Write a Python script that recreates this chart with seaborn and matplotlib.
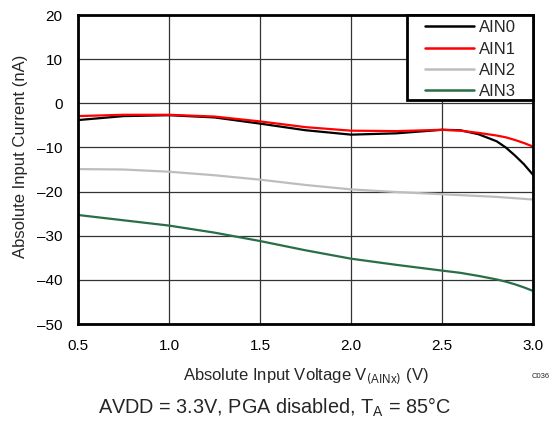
import numpy as np
import pandas as pd
import matplotlib
matplotlib.use("Agg")
import matplotlib.pyplot as plt
from matplotlib.patches import Rectangle
import seaborn as sns

# data
volts = [0.5, 0.75, 1.0, 1.25, 1.5, 1.75, 2.0, 2.25, 2.5, 2.6, 2.7, 2.8, 2.85, 2.9, 2.95, 3.0]
ain0 = [-3.8, -2.9, -2.7, -3.2, -4.6, -6.1, -7.1, -6.8, -6.0, -6.1, -7.0, -8.6, -10.0, -11.8, -13.8, -16.2]
ain1 = [-2.9, -2.6, -2.6, -3.0, -4.1, -5.4, -6.2, -6.3, -6.0, -6.2, -6.7, -7.3, -7.7, -8.3, -9.0, -9.8]
ain2 = [-14.9, -15.0, -15.5, -16.3, -17.3, -18.5, -19.5, -20.1, -20.6, -20.8, -21.0, -21.2, -21.35, -21.5, -21.65, -21.8]
ain3 = [-25.3, -26.5, -27.7, -29.3, -31.2, -33.3, -35.2, -36.6, -37.9, -38.4, -39.1, -39.9, -40.4, -41.0, -41.7, -42.5]
series = ["AIN0", "AIN1", "AIN2", "AIN3"]
colors = ["#000000", "#ff0000", "#bdbdbd", "#2a6e47"]
x_ticks = [0.5, 1.0, 1.5, 2.0, 2.5, 3.0]
y_ticks = [20, 10, 0, -10, -20, -30, -40, -50]

df = pd.concat([
    pd.DataFrame({"V": volts, "I": vals, "ch": name})
    for name, vals in zip(series, [ain0, ain1, ain2, ain3])
])

sns.set_style("white")
plt.rcParams['font.family'] = ['Liberation Sans', 'DejaVu Sans']

fig = plt.figure(figsize=(5.49, 4.23), dpi=100)
ax = fig.add_axes([0.1421, 0.234, 0.8288, 0.7305])

sns.lineplot(data=df, x="V", y="I", hue="ch", palette=colors, linewidth=1.6,
             ax=ax, sort=False)

ax.set_xlim(0.5, 3.0)
ax.set_ylim(-50, 20)
ax.set_xticks(x_ticks)
ax.set_yticks(y_ticks)
ax.set_xticklabels([f"{t:.1f}" for t in x_ticks])
ax.set_yticklabels([str(t).replace("-", "\u2013") for t in y_ticks])
ax.tick_params(length=0, labelsize=11, colors="black")
ax.tick_params(axis="y", pad=11)
ax.tick_params(axis="x", pad=11)
ax.grid(True, color="#333333", linewidth=0.9)
for s in ax.spines.values():
    s.set_visible(True)
    s.set_color("black")
    s.set_linewidth(2)
    s.set_zorder(5)

ax.set_xlabel("Absolute Input Voltage V$_{(\\mathregular{AINx})}$ (V)", fontsize=12, labelpad=9.5)
ax.set_ylabel("Absolute Input Current (nA)", fontsize=12, labelpad=6.5, y=0.544)

# legend box (wider than its content in the reference)
box = Rectangle((0.723, 0.725), 0.277, 0.275, transform=ax.transAxes,
                facecolor="white", edgecolor="black", linewidth=2, zorder=6,
                clip_on=False)
ax.add_patch(box)
leg = ax.legend(loc="upper left", bbox_to_anchor=(0.763, 0.983), frameon=False,
                fontsize=12, borderaxespad=0, borderpad=0, handlelength=2.9,
                handletextpad=0.3, labelspacing=0.38)
leg.set_zorder(7)
for line in leg.get_lines():
    line.set_linewidth(1.8)

fig.text(0.985, 0.111, "C036", fontsize=5.5, ha="center", va="center")
fig.text(0.5, 0.038, "AVDD = 3.3V, PGA disabled, T$_\\mathregular{A}$ = 85°C",
         fontsize=14.3, ha="center", va="center")

fig.savefig("out.png", dpi=100)
